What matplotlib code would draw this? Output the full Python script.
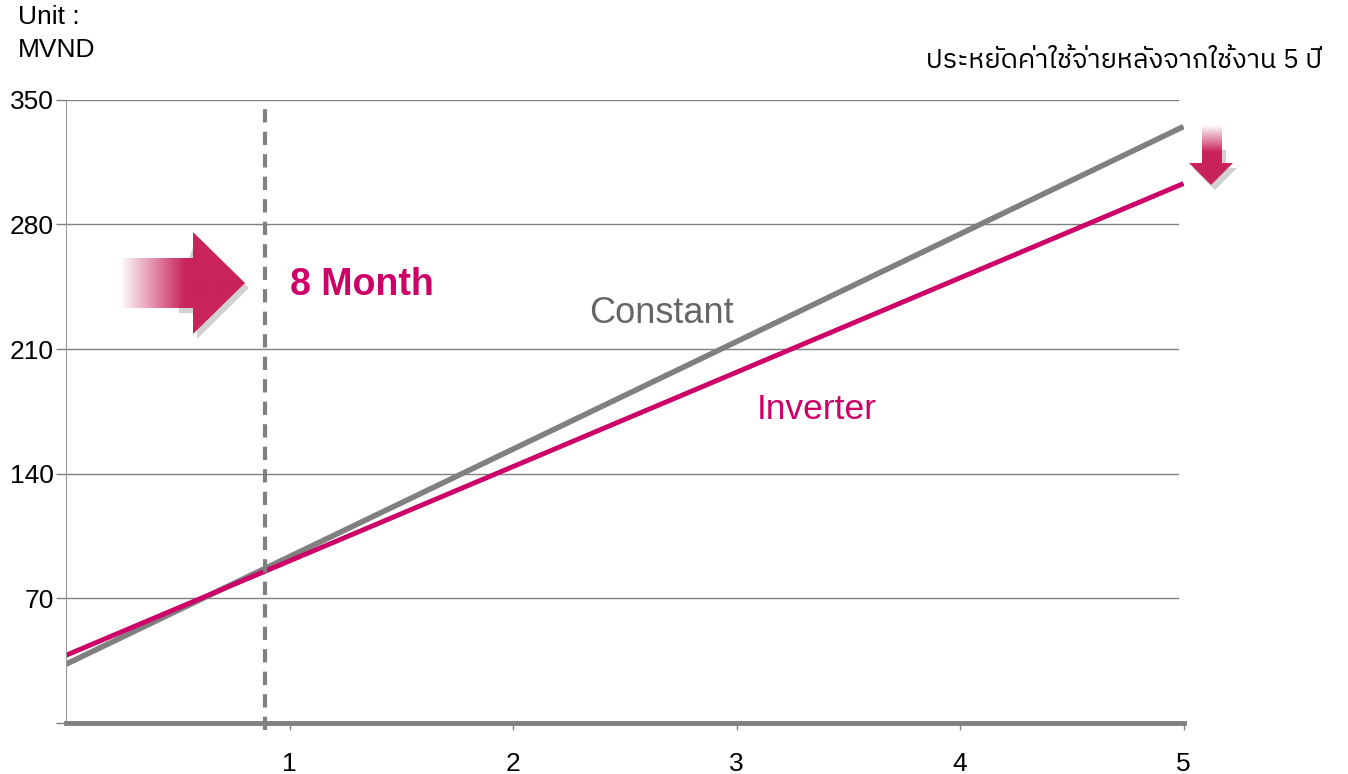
import numpy as np
import matplotlib
matplotlib.use("Agg")
import matplotlib.pyplot as plt
from matplotlib import font_manager
from matplotlib.patches import Polygon

plt.rcParams['font.family'] = ['Liberation Sans', 'DejaVu Sans']

years = [0, 5]
constant = [33, 335]
inverter = [38, 303]
y_ticks = [70, 140, 210, 280, 350]
x_ticks = [1, 2, 3, 4, 5]
payback = 0.89

thai_fonts = sorted({f.name for f in font_manager.fontManager.ttflist if 'thai' in f.name.lower()})

W, H = 1348, 774
fig = plt.figure(figsize=(W / 100, H / 100), dpi=100)
ax = fig.add_axes([0.049, 0.066, 0.829, 0.805])

for v in y_ticks:
    ax.axhline(v, color='#808080', lw=1, xmax=0.995)
ax.plot(years, constant, color='#808080', lw=4, solid_capstyle='butt')
ax.plot(years, inverter, color='#CC0066', lw=3.5, solid_capstyle='butt')
ax.axvline(payback, ymin=-0.012, ymax=0.99, color='#808080', lw=3, ls=(0, (3.2, 2.2)), clip_on=False)

ax.set_xlim(0, 5)
ax.set_ylim(0, 350)
ax.set_xticks(x_ticks)
ax.set_yticks([0] + y_ticks)
ax.set_yticklabels([''] + [str(v) for v in y_ticks])
ax.tick_params(axis='x', length=5, width=1, color='#808080', pad=16, labelsize=19)
ax.tick_params(axis='y', length=7, width=1, color='#808080', pad=2, labelsize=19)
for s in ['top', 'right']:
    ax.spines[s].set_visible(False)
ax.spines['left'].set_color('#999999')
ax.spines['bottom'].set_color('#808080')
ax.spines['bottom'].set_linewidth(3.5)

ax.text(2.666, 230, 'Constant', fontsize=26, color='#666666', ha='center', va='center')
ax.text(3.36, 176, 'Inverter', fontsize=25.5, color='#CC0066', ha='center', va='center')
ax.text(1.0, 246, '8 Month', fontsize=27, color='#CC0066', fontweight='bold', ha='left', va='center')

fig.text(18 / W, 1 - 17 / H, 'Unit :', fontsize=19, va='center')
fig.text(18 / W, 1 - 50 / H, 'MVND', fontsize=19, va='center')
fig.text(1322 / W, 1 - 60 / H, 'ประหยัดค่าใช้จ่ายหลังจากใช้งาน 5 ปี', fontsize=19.5, ha='right', va='center',
         family=thai_fonts + ['Liberation Sans', 'DejaVu Sans'])


def to_fig(pts):
    pts = np.array(pts, float)
    return np.column_stack([pts[:, 0] / W, 1 - pts[:, 1] / H])


# gradient-faded block arrow, points given in pixels from top-left
def grad_arrow(pts, shadow_pts, fade_axis, fade_from, fade_to, color):
    verts = to_fig(pts)
    shadow = Polygon(to_fig(shadow_pts) + [4 / W, -5 / H], closed=True, transform=fig.transFigure,
                     facecolor=(0, 0, 0, 0.18), lw=0, zorder=1)
    fig.add_artist(shadow)
    x0, x1 = verts[:, 0].min(), verts[:, 0].max()
    y0, y1 = verts[:, 1].min(), verts[:, 1].max()
    sub = fig.add_axes([x0, y0, x1 - x0, y1 - y0])
    sub.set_zorder(2)
    sub.axis('off')
    n = 300
    if fade_axis == 'x':
        px = np.linspace(x0 * W, x1 * W, n)
        a = np.clip((px - fade_from) / (fade_to - fade_from), 0, 1)
        a = np.tile(a, (2, 1))
    else:
        py = np.linspace((1 - y0) * H, (1 - y1) * H, n)
        a = np.clip((py - fade_from) / (fade_to - fade_from), 0, 1)
        a = np.tile(a[:, None], (1, 2))
    rgb = np.array(matplotlib.colors.to_rgb(color))
    img = 1 - a[..., None] * (1 - rgb)
    im = sub.imshow(img, extent=[x0, x1, y0, y1], origin='lower', aspect='auto')
    sub.set_xlim(x0, x1)
    sub.set_ylim(y0, y1)
    poly = Polygon(verts, closed=True, transform=sub.transData, facecolor='none', lw=0)
    sub.add_patch(poly)
    im.set_clip_path(poly)


grad_arrow([(120, 258), (193, 258), (193, 232), (245, 283), (193, 334), (193, 308), (120, 308)],
           [(193, 232), (245, 283), (193, 334), (193, 308), (175, 308), (175, 280)],
           'x', 120, 185, '#C8245A')
grad_arrow([(1202, 125), (1222, 125), (1222, 163), (1233, 163), (1211, 185), (1189, 163), (1202, 163)],
           [(1205, 145), (1222, 145), (1222, 163), (1233, 163), (1211, 185), (1189, 163), (1202, 163)],
           'y', 125, 152, '#C8245A')

fig.savefig('out.png', dpi=100)
